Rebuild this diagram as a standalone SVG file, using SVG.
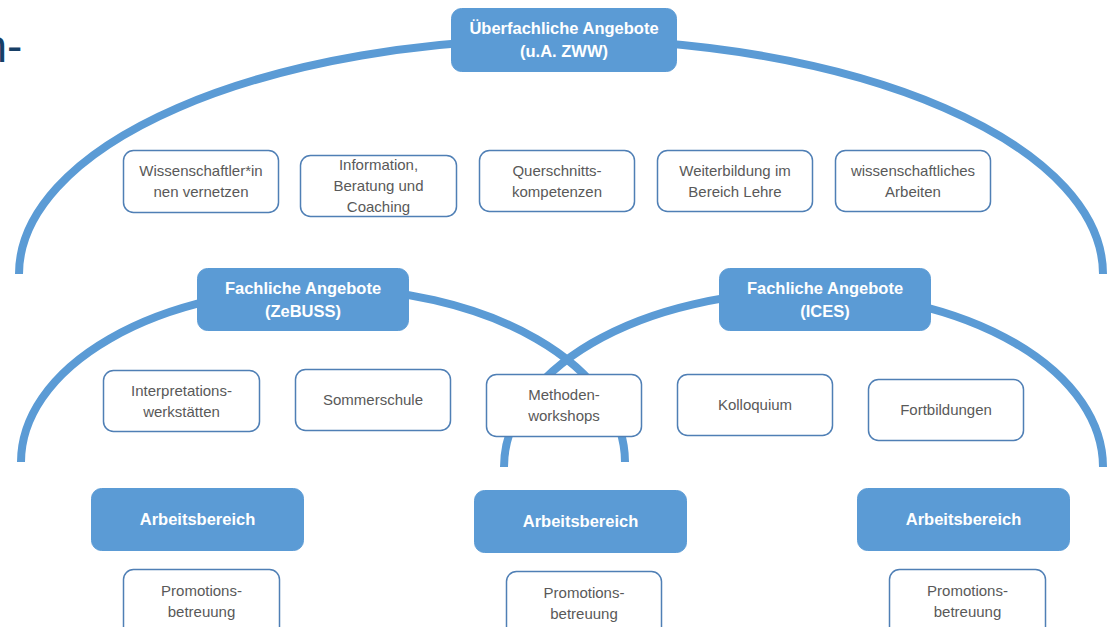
<svg xmlns="http://www.w3.org/2000/svg" width="1107" height="627" viewBox="0 0 1107 627">
<style>
.arc{fill:none;stroke:#5b9bd5;stroke-width:8}
.hb{fill:#5b9bd5;stroke:#5b9bd5;stroke-width:1}
.wb{fill:#ffffff;stroke:#4f7fb5;stroke-width:1.5}
.ht{font-family:"Liberation Sans",Arial,sans-serif;font-weight:bold;font-size:16.5px;fill:#ffffff;text-anchor:middle}
.wt{font-family:"Liberation Sans",Arial,sans-serif;font-size:15px;fill:#595959;text-anchor:middle}
</style>
<rect width="1107" height="627" fill="#ffffff"/>
<text x="-18.6" y="62" font-family="Liberation Sans, Arial, sans-serif" font-size="46" fill="#173f66">n-</text>
<g id="connectors">
<path class="arc" d="M19 274 A542 235 0 0 1 1103 274"/>
<path class="arc" d="M21 462 A302 174 0 0 1 625 462"/>
<path class="arc" d="M504 467 A299.5 175 0 0 1 1103 467"/>
</g>
<g id="ueberfachlich">
<rect class="hb" x="451.5" y="8.5" width="225" height="63" rx="10"/>
<text class="ht" x="564" y="34">Überfachliche Angebote</text>
<text class="ht" x="564" y="57">(u.A. ZWW)</text>
</g>
<g id="vernetzen">
<rect class="wb" x="123.5" y="150.5" width="155" height="62" rx="10"/>
<text class="wt" x="201" y="176">Wissenschaftler*in</text>
<text class="wt" x="201" y="197">nen vernetzen</text>
</g>
<g id="beratung">
<rect class="wb" x="300.5" y="155.5" width="156" height="61" rx="10"/>
<text class="wt" x="378.5" y="170">Information,</text>
<text class="wt" x="378.5" y="191">Beratung und</text>
<text class="wt" x="378.5" y="212">Coaching</text>
</g>
<g id="querschnitt">
<rect class="wb" x="479.5" y="150.5" width="155" height="61" rx="10"/>
<text class="wt" x="557" y="176">Querschnitts-</text>
<text class="wt" x="557" y="197">kompetenzen</text>
</g>
<g id="weiterbildung">
<rect class="wb" x="657.5" y="150.5" width="155" height="61" rx="10"/>
<text class="wt" x="735" y="176">Weiterbildung im</text>
<text class="wt" x="735" y="197">Bereich Lehre</text>
</g>
<g id="arbeiten">
<rect class="wb" x="835.5" y="150.5" width="155" height="61" rx="10"/>
<text class="wt" x="913" y="176">wissenschaftliches</text>
<text class="wt" x="913" y="197">Arbeiten</text>
</g>
<g id="zebuss">
<rect class="hb" x="197.5" y="268.5" width="211" height="62" rx="10"/>
<text class="ht" x="303" y="294">Fachliche Angebote</text>
<text class="ht" x="303" y="317">(ZeBUSS)</text>
</g>
<g id="ices">
<rect class="hb" x="719.5" y="268.5" width="211" height="62" rx="10"/>
<text class="ht" x="825" y="294">Fachliche Angebote</text>
<text class="ht" x="825" y="317">(ICES)</text>
</g>
<g id="interpretation">
<rect class="wb" x="103.5" y="370.5" width="156" height="61" rx="10"/>
<text class="wt" x="181.5" y="396">Interpretations-</text>
<text class="wt" x="181.5" y="417">werkstätten</text>
</g>
<g id="sommerschule">
<rect class="wb" x="295.5" y="369.5" width="155" height="61" rx="10"/>
<text class="wt" x="373" y="405">Sommerschule</text>
</g>
<g id="methoden">
<rect class="wb" x="486.5" y="374.5" width="155" height="62" rx="10"/>
<text class="wt" x="564" y="400">Methoden-</text>
<text class="wt" x="564" y="421">workshops</text>
</g>
<g id="kolloquium">
<rect class="wb" x="677.5" y="374.5" width="155" height="61" rx="10"/>
<text class="wt" x="755" y="410">Kolloquium</text>
</g>
<g id="fortbildungen">
<rect class="wb" x="868.5" y="379.5" width="155" height="61" rx="10"/>
<text class="wt" x="946" y="415">Fortbildungen</text>
</g>
<g id="arbeitsbereich1">
<rect class="hb" x="91.5" y="488.5" width="212" height="62" rx="10"/>
<text class="ht" x="197.5" y="525">Arbeitsbereich</text>
</g>
<g id="arbeitsbereich2">
<rect class="hb" x="474.5" y="490.5" width="212" height="62" rx="10"/>
<text class="ht" x="580.5" y="527">Arbeitsbereich</text>
</g>
<g id="arbeitsbereich3">
<rect class="hb" x="857.5" y="488.5" width="212" height="62" rx="10"/>
<text class="ht" x="963.5" y="525">Arbeitsbereich</text>
</g>
<g id="promotion1">
<rect class="wb" x="123.5" y="569.5" width="156" height="70" rx="10"/>
<text class="wt" x="201.5" y="596">Promotions-</text>
<text class="wt" x="201.5" y="617">betreuung</text>
</g>
<g id="promotion2">
<rect class="wb" x="506.5" y="571.5" width="155" height="70" rx="10"/>
<text class="wt" x="584" y="598">Promotions-</text>
<text class="wt" x="584" y="619">betreuung</text>
</g>
<g id="promotion3">
<rect class="wb" x="889.5" y="569.5" width="156" height="70" rx="10"/>
<text class="wt" x="967.5" y="596">Promotions-</text>
<text class="wt" x="967.5" y="617">betreuung</text>
</g>
</svg>
